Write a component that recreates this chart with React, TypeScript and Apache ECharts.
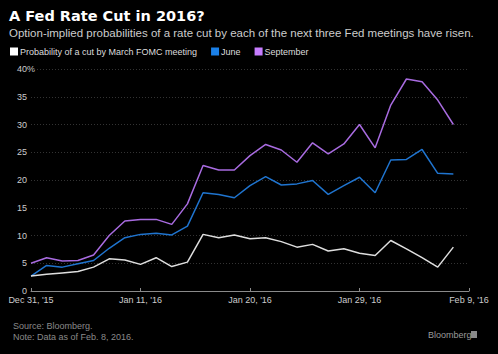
import React, { useEffect, useRef } from "react";
import * as echarts from "echarts";

const dates = [
  "Dec 31, '15", "Jan 1, '16", "Jan 4, '16", "Jan 5, '16", "Jan 6, '16", "Jan 7, '16", "Jan 8, '16",
  "Jan 11, '16", "Jan 12, '16", "Jan 13, '16", "Jan 14, '16", "Jan 15, '16", "Jan 18, '16", "Jan 19, '16",
  "Jan 20, '16", "Jan 21, '16", "Jan 22, '16", "Jan 25, '16", "Jan 26, '16", "Jan 27, '16", "Jan 28, '16",
  "Jan 29, '16", "Feb 1, '16", "Feb 2, '16", "Feb 3, '16", "Feb 4, '16", "Feb 5, '16", "Feb 8, '16",
  "Feb 9, '16",
];

const march = [
  2.7, 3.0, 3.25, 3.5, 4.3, 5.8, 5.6, 4.8, 6.0, 4.4, 5.2, 10.2, 9.6, 10.1,
  9.4, 9.6, 8.9, 7.9, 8.4, 7.2, 7.6, 6.8, 6.4, 9.1, 7.6, 6.0, 4.3, 7.9,
];
const june = [
  2.7, 4.6, 4.3, 4.9, 5.5, 7.7, 9.6, 10.2, 10.4, 10.1, 11.7, 17.7, 17.4, 16.8,
  19.0, 20.6, 19.1, 19.3, 19.9, 17.4, 19.0, 20.5, 17.7, 23.6, 23.7, 25.5, 21.2, 21.1,
];
const september = [
  5.0, 6.0, 5.4, 5.5, 6.5, 10.0, 12.6, 12.9, 12.9, 12.0, 15.7, 22.6, 21.8, 21.8,
  24.4, 26.4, 25.4, 23.2, 26.7, 24.7, 26.5, 30.0, 25.8, 33.5, 38.2, 37.7, 34.4, 30.0,
];

const seriesNames = ["Probability of a cut by March FOMC meeting", "June", "September"];
const seriesColors = ["#dedede", "#1f74cf", "#a86be0"];
const legendColors = ["#ffffff", "#1a80e8", "#c77dff"];

export default function App() {
  const ref = useRef<HTMLDivElement>(null);
  useEffect(() => {
    if (!ref.current) return;
    const chart = echarts.init(ref.current, null, { renderer: "svg" });
    const font = "Liberation Sans, Arial, sans-serif";
    const datasets = [march, june, september];
    chart.setOption({
      animation: false,
      backgroundColor: "#000000",
      textStyle: { fontFamily: font },
      title: {
        text: "A Fed Rate Cut in 2016?",
        subtext:
          "Option-implied probabilities of a rate cut by each of the next three Fed meetings have risen.",
        left: 9,
        top: 8,
        itemGap: 4,
        padding: 0,
        textStyle: { color: "#ffffff", fontSize: 14.5, fontWeight: "bold", fontFamily: "DejaVu Sans, sans-serif" },
        subtextStyle: { color: "#cccccc", fontSize: 11.5, fontFamily: font },
      },
      legend: {
        left: 10,
        top: 47,
        itemWidth: 8,
        itemHeight: 8,
        itemGap: 14,
        icon: "rect",
        padding: 0,
        textStyle: { color: "#dddddd", fontSize: 9, fontFamily: font, padding: [0, 0, 0, -3] },
        data: seriesNames.map((n, i) => ({ name: n, itemStyle: { color: legendColors[i] } })),
      },
      grid: { left: 31, right: 29, top: 69, bottom: 63, containLabel: false },
      xAxis: {
        type: "category",
        data: dates,
        boundaryGap: false,
        axisLine: { lineStyle: { color: "#8a8a8a", width: 1 } },
        axisTick: { show: true, interval: 6, inside: true, length: 3, lineStyle: { color: "#8a8a8a" } },
        axisLabel: { interval: 6, color: "#cccccc", fontSize: 9, margin: 4, fontFamily: font },
        splitLine: { show: false },
      },
      yAxis: {
        type: "value",
        min: 0,
        max: 40,
        interval: 5,
        axisLine: { show: false },
        axisTick: { show: false },
        axisLabel: { color: "#cccccc", fontSize: 9, margin: 4, fontFamily: font },
        splitLine: { lineStyle: { color: "#333333", type: [1, 2], width: 1 } },
      },
      graphic: [
        { type: "text", left: 27, top: 64, style: { text: "%", fill: "#cccccc", fontSize: 9, fontFamily: font } },
        { type: "text", left: 13, top: 321, style: { text: "Source: Bloomberg.", fill: "#8a8a8a", fontSize: 9, fontFamily: font } },
        { type: "text", left: 13, top: 332, style: { text: "Note: Data as of Feb. 8, 2016.", fill: "#8a8a8a", fontSize: 9, fontFamily: font } },
        { type: "text", left: 428, top: 330, style: { text: "Bloomberg", fill: "#9a9a9a", fontSize: 9, fontFamily: font } },
        { type: "rect", left: 471, top: 331, shape: { width: 6, height: 7 }, style: { fill: "#8a8a8a" } },
      ],
      series: datasets.map((d, i) => ({
        name: seriesNames[i],
        type: "line",
        data: d,
        showSymbol: false,
        symbol: "none",
        lineStyle: { color: seriesColors[i], width: 1.5 },
        itemStyle: { color: legendColors[i] },
        z: 3 - i,
      })),
    });
    return () => chart.dispose();
  }, []);
  return (
    <div
      ref={ref}
      style={{ position: "fixed", left: 0, top: 0, width: 498, height: 354 }}
    />
  );
}
